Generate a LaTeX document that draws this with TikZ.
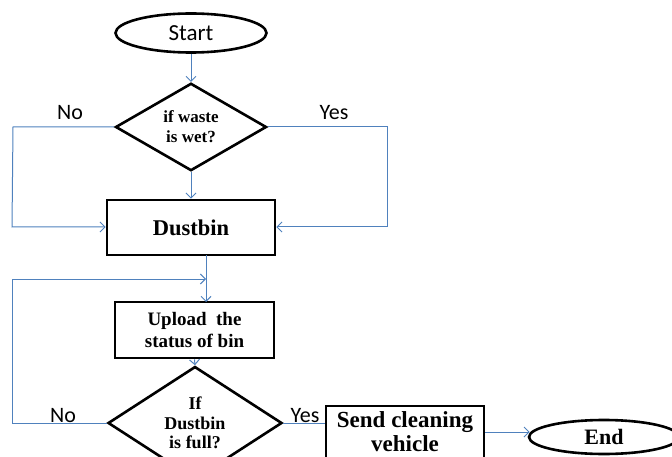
\documentclass[tikz,border=0pt]{standalone}
\usepackage{fontspec}
\setmainfont{Liberation Serif}
\newfontfamily\calfont{Carlito}
\usetikzlibrary{shapes.geometric,arrows.meta}
\definecolor{lineblue}{RGB}{79,129,189}
\tikzset{
  term/.style={ellipse,draw=black,line width=2.6pt,inner sep=0pt},
  decide/.style={diamond,draw=black,line width=2.6pt,inner sep=0pt,align=center},
  procbox/.style={rectangle,draw=black,line width=2.6pt,inner sep=0pt,align=center},
  conn/.style={draw=lineblue,line width=1pt},
  arr/.style={conn,-{Straight Barb[length=5pt,width=10pt,line width=1pt]}},
  lab/.style={font=\calfont\fontsize{22}{24}\selectfont,inner sep=0pt}
}
\begin{document}
\begin{tikzpicture}[x=1pt,y=-1pt]
\useasboundingbox (0,0) rectangle (672,457);
\clip (0,0) rectangle (672,457);
\node[term,minimum width=151pt,minimum height=39pt,font=\calfont\fontsize{23}{26}\selectfont] (start) at (191,33) {Start};
\node[decide,minimum width=151pt,minimum height=75pt,font=\bfseries\fontsize{17}{20}\selectfont] (wet) at (191,127) {if waste\\is wet?};
\node[procbox,minimum width=168pt,minimum height=55pt,font=\bfseries\fontsize{22.5}{26}\selectfont] (dust) at (191,227.5) {Dustbin};
\node[procbox,minimum width=159pt,minimum height=56pt,font=\bfseries\fontsize{19}{22}\selectfont] (upload) at (194.5,330) {Upload\hspace{0.25em} the\\status of bin};
\node[decide,minimum width=174pt,minimum height=76pt,font=\bfseries\fontsize{18}{19.5}\selectfont] (full) at (195,423) {If\\Dustbin\\is full?};
\node[procbox,minimum width=158pt,minimum height=52pt,font=\bfseries\fontsize{23}{24}\selectfont] (send) at (405,432) {Send cleaning\\vehicle};
\node[term,minimum width=150pt,minimum height=34pt,font=\bfseries\fontsize{22}{24}\selectfont] (end) at (604,437) {End};

\node[lab] (no1) at (70,113) {No};
\node[lab] (yes1) at (334,113) {Yes};
\node[lab] (no2) at (63,416) {No};
\node[lab] (yes2) at (305,416) {Yes};

\coordinate (nl1) at (13,127);
\coordinate (nl2) at (12,227);
\coordinate (yr1) at (387,127);
\coordinate (yr2) at (387,227);
\coordinate (dtop) at (206,255);
\coordinate (utop) at (206,302);
\coordinate (lp0) at (12,423);
\coordinate (lp1) at (12,279);
\coordinate (lp2) at (206,279);

\draw[arr] (start) -- (wet);
\draw[arr] (wet) -- (dust);
\draw[arr] (wet.west) -- (nl1) -- (nl2) -- (dust.west |- nl2);
\draw[arr] (wet.east) -- (yr1) -- (yr2) -- (dust.east |- yr2);
\draw[arr] (dtop) -- (utop);
\draw[arr] (upload.south) -- (full.north);
\draw[arr] (full.west) -- (lp0) -- (lp1) -- (lp2);
\draw[conn] (full.east) -- (send.west |- full.east);
\draw[arr] (send.east) -- ([xshift=2pt]end.west |- send.east);
\end{tikzpicture}
\end{document}
